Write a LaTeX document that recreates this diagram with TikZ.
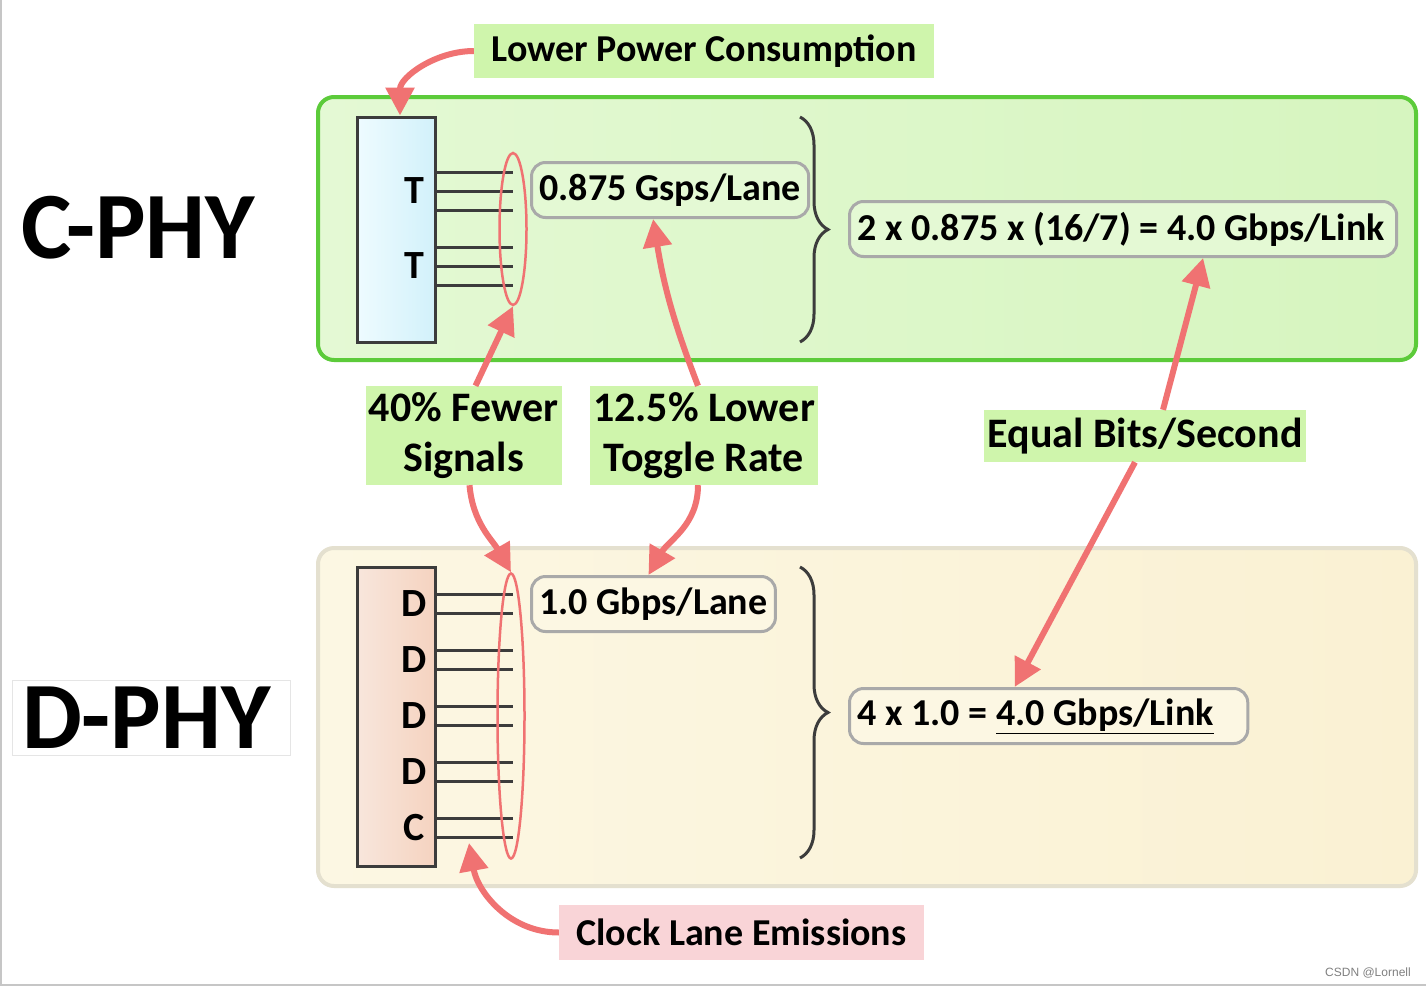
\documentclass[tikz,border=0pt]{standalone}
\usepackage{fontspec}
\setmainfont{Carlito}
\newfontfamily\markfont{Liberation Sans}
\usepackage{tikz}
\usetikzlibrary{shapes.geometric, arrows.meta, positioning, decorations.pathreplacing}
\definecolor{cpanelleft}{HTML}{E4F9D4}
\definecolor{cpanelright}{HTML}{D6F5BF}
\definecolor{cpanelline}{HTML}{5CCB3A}
\definecolor{dpanelleft}{HTML}{FCF7E3}
\definecolor{dpanelright}{HTML}{FAF1D3}
\definecolor{dpanelline}{HTML}{E4E0CF}
\definecolor{tboxleft}{HTML}{EEFBFF}
\definecolor{tboxright}{HTML}{D2F1FA}
\definecolor{dboxleft}{HTML}{F8E6DC}
\definecolor{dboxright}{HTML}{F5D3C0}
\definecolor{wiregray}{HTML}{3C3C3C}
\definecolor{rategray}{HTML}{A9A9A9}
\definecolor{arrowred}{HTML}{F07272}
\definecolor{calloutgreen}{HTML}{CFF5AC}
\definecolor{calloutpink}{HTML}{F9D4D7}

\begin{document}
\begin{tikzpicture}[
    x=1pt, y=1pt,
    panel/.style={rectangle, rounded corners=16pt, line width=4pt},
    phybox/.style={rectangle, draw=wiregray, line width=3pt, minimum width=78pt},
    lane/.style={font=\fontsize{40}{44}\selectfont\bfseries},
    ring/.style={ellipse, draw=arrowred, line width=2.5pt, minimum width=27pt, inner sep=0pt},
    rate/.style={rectangle, rounded corners=14pt, draw=rategray, line width=3pt,
                 font=\fontsize{38}{42}\selectfont\bfseries, inner xsep=8pt, minimum height=55pt},
    callout/.style={rectangle, fill=calloutgreen, font=\fontsize{38}{50}\selectfont\bfseries, align=center},
    big/.style={font=\fontsize{42}{50}\selectfont\bfseries},
    arrow/.style={-{Triangle[length=28pt,width=28pt]}, line width=6pt, draw=arrowred},
    wire/.style={line width=3pt, draw=wiregray},
    brace/.style={decorate, decoration={brace, amplitude=28pt}, line width=3pt, draw=wiregray},
    phyname/.style={font=\fontsize{95}{98}\selectfont\bfseries}
]
\useasboundingbox (0,0) rectangle (1426,-988);
\fill[white] (0,0) rectangle (1426,-988);
\draw[gray!45, line width=1.5pt] (1,0) -- (1,-985) -- (1426,-985);

% Panels
\node[panel, draw=cpanelline, left color=cpanelleft, right color=cpanelright,
      minimum width=1098pt, minimum height=263pt] (cpanel) at (867,-228.5) {};
\node[panel, draw=dpanelline, left color=dpanelleft, right color=dpanelright,
      minimum width=1098pt, minimum height=338pt] (dpanel) at (867,-717) {};

% PHY names
\node[phyname] (cphy) at (138,-228) {C-PHY};
\node[phyname, draw=gray!20, line width=1pt, minimum width=278pt, minimum height=75pt,
      text width=258pt, align=left] (dphy) at (151,-717.5) {D-PHY};

% Transmitters
\node[phybox, left color=tboxleft, right color=tboxright, minimum height=225pt] (tbox) at (396,-229.5) {};
\node[phybox, left color=dboxleft, right color=dboxright, minimum height=299pt] (dbox) at (396,-716.5) {};

\foreach \y in {172,191,210,247,266,285}
    \draw[wire] (435,-\y) -- (513,-\y);
\foreach \y in {594.5,613.5,650.5,669.5,706.5,725.5,762.5,781.5,818.5,837.5}
    \draw[wire] (435,-\y) -- (513,-\y);

\node[lane] (t1) at (414,-191) {T};
\node[lane] (t2) at (414,-266) {T};
\foreach \y/\l in {604/D,660/D,716/D,772/D,828/C}
    \node[lane] (l\y) at (414,-\y) {\l};

\node[ring, minimum height=152pt] (cring) at (513,-229) {};
\node[ring, minimum height=285pt] (dring) at (511,-716) {};

% Rates
\node[rate, fill=cpanelleft, anchor=west] (csym) at (530,-190) {0.875 Gsps/Lane};
\node[rate, fill=cpanelleft, anchor=west] (clink) at (848,-229) {2 x 0.875 x (16/7) = 4.0 Gbps/Link\hspace*{4pt}};
\node[rate, fill=dpanelleft, anchor=west] (dlane) at (530,-604) {1.0 Gbps/Lane};
\node[rate, fill=dpanelleft, anchor=west] (dlink) at (848,-716) {4 x 1.0 = \underline{4.0 Gbps/Link}\hspace*{26pt}};

\draw[brace] (800,-117) -- (800,-342);
\draw[brace] (800,-567) -- (800,-858);

% Callouts
\node[callout, minimum width=460pt, minimum height=54pt] (power) at (704,-51) {Lower Power Consumption};
\node[callout, big, minimum width=193pt, minimum height=99pt] (fewer) at (463.5,-435.5) {40\% Fewer\\Signals};
\node[callout, big, minimum width=226pt, minimum height=99pt] (toggle) at (704,-435.5) {12.5\% Lower\\Toggle Rate};
\node[callout, big, minimum width=320pt, minimum height=52pt] (equal) at (1145,-436) {Equal Bits/Second};
\node[callout, fill=calloutpink, minimum width=365pt, minimum height=55pt] (clock) at (741.5,-932.5) {Clock Lane Emissions};
\coordinate (clk) at (469,-843);

% Arrows
\draw[arrow] (power.west) to[out=180, in=90] ([xshift=4pt]tbox.north);
\draw[arrow] ([xshift=12pt]fewer.north) -- (cring.south);
\draw[arrow] ([xshift=6pt]fewer.south) to[out=-85, in=120] (dring.north);
\draw[arrow] ([xshift=-6pt]toggle.north) to[bend left=6] ([xshift=-17pt]csym.south);
\draw[arrow] ([xshift=-6pt]toggle.south) to[out=-90, in=60] ([xshift=-5pt]dlane.north);
\draw[arrow] ([xshift=18pt]equal.north) -- ([xshift=80pt]clink.south);
\draw[arrow] ([xshift=-10pt]equal.south) -- ([xshift=-34pt]dlink.north);
\draw[arrow] (clock.west) to[out=180, in=-80] (clk);

\node[font=\markfont\fontsize{12}{14}\selectfont, text=gray] (mark) at (1368,-973) {CSDN @Lornell};
\end{tikzpicture}
\end{document}
